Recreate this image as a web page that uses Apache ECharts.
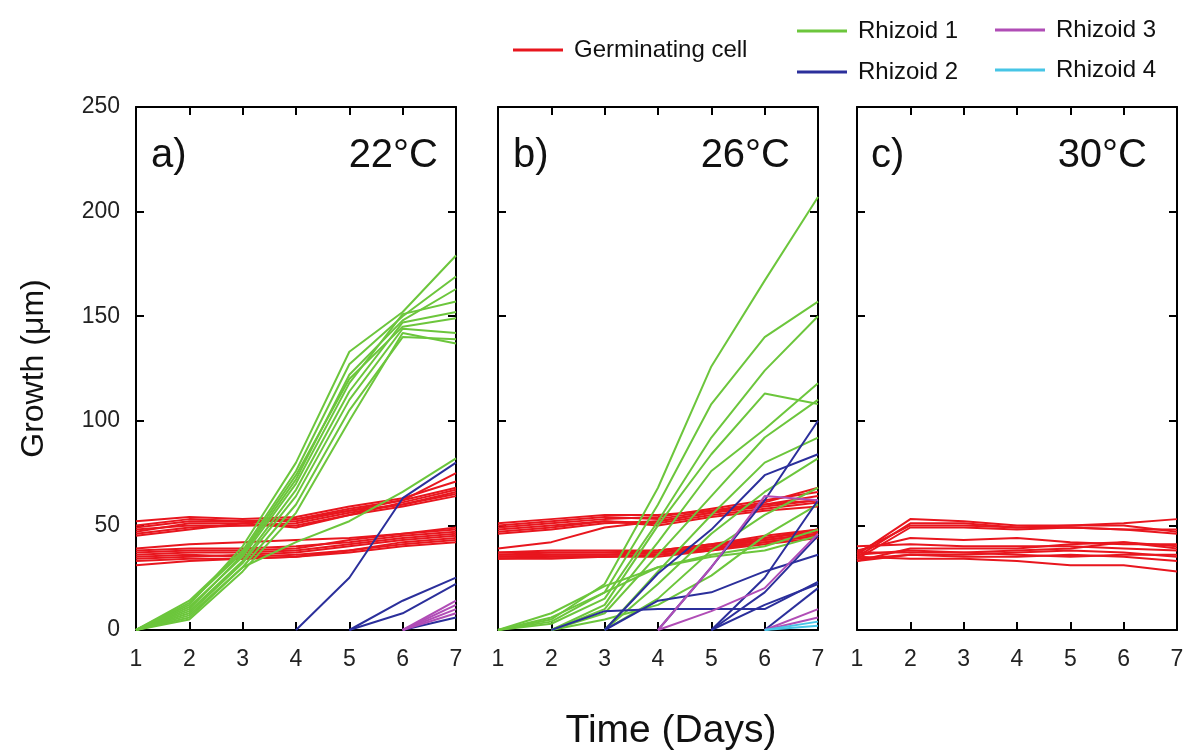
<!DOCTYPE html>
<html>
<head>
<meta charset="utf-8">
<script src="https://cdn.jsdelivr.net/npm/echarts@6/dist/echarts.min.js"></script>
<style>
  html, body { margin: 0; padding: 0; background: #fff; }
  #chart { width: 1189px; height: 756px; }
</style>
</head>
<body>
<div id="chart"></div>
<script>
// days on the x axis, growth (µm) on y
const days = [1, 2, 3, 4, 5, 6, 7];
const panelLabels = ['a)', 'b)', 'c)'];
const panelTemps = ['22°C', '26°C', '30°C'];

// a) 22°C
const germA = [
  [48, 50, 50, 51, 56, 60, 66],
  [50, 53, 52, 53, 58, 62, 68],
  [46, 49, 50, 50, 55, 59, 64],
  [52, 54, 53, 54, 59, 63, 71],
  [47, 51, 51, 49, 55, 61, 67],
  [49, 52, 52, 52, 57, 60, 65],
  [45, 48, 51, 53, 57, 62, 75],
  [38, 39, 39, 40, 42, 45, 47],
  [36, 37, 37, 38, 41, 44, 46],
  [34, 35, 36, 37, 40, 43, 45],
  [35, 36, 35, 36, 38, 42, 44],
  [33, 34, 34, 35, 37, 40, 42],
  [37, 38, 38, 39, 43, 46, 49],
  [39, 41, 42, 43, 44, 46, 48],
  [31, 33, 34, 35, 38, 41, 43]
];
const rhiz1A = [
  [0, 12, 40, 80, 133, 152, 179],
  [0, 14, 38, 76, 127, 150, 169],
  [0, 10, 36, 72, 122, 148, 163],
  [0, 11, 35, 70, 118, 151, 157],
  [0, 9, 33, 67, 114, 147, 152],
  [0, 13, 37, 74, 120, 145, 149],
  [0, 8, 32, 64, 110, 144, 142],
  [0, 6, 30, 60, 105, 140, 139],
  [0, 5, 28, 56, 100, 142, 137],
  [0, 7, 30, 42, 52, 66, 82]
];
const rhiz2A = [
  [null, null, null, 0, 25, 63, 80],
  [null, null, null, null, 0, 14, 25],
  [null, null, null, null, 0, 8, 22],
  [null, null, null, null, null, 0, 6]
];
const rhiz3A = [
  [null, null, null, null, null, 0, 14],
  [null, null, null, null, null, 0, 12],
  [null, null, null, null, null, 0, 10],
  [null, null, null, null, null, 0, 8]
];

// b) 26°C
const germB = [
  [48, 50, 52, 51, 55, 58, 61],
  [50, 52, 54, 53, 57, 60, 64],
  [46, 48, 51, 52, 56, 59, 62],
  [49, 51, 53, 54, 58, 62, 66],
  [47, 49, 52, 50, 54, 57, 59],
  [51, 53, 55, 55, 57, 61, 68],
  [39, 42, 49, 52, 56, 60, 62],
  [36, 36, 36, 37, 40, 43, 46],
  [35, 35, 35, 36, 39, 42, 45],
  [37, 37, 37, 38, 41, 44, 47],
  [34, 35, 35, 36, 38, 41, 44],
  [36, 37, 37, 37, 40, 44, 48],
  [35, 36, 36, 37, 39, 43, 46],
  [37, 38, 38, 38, 41, 45, 48],
  [34, 34, 35, 35, 38, 42, 45]
];
const rhiz1B = [
  [0, 5, 22, 68, 126, 167, 207],
  [0, 4, 18, 60, 108, 140, 157],
  [0, 3, 15, 52, 92, 124, 150],
  [null, 0, 12, 50, 84, 113, 108],
  [null, 0, 10, 42, 76, 96, 118],
  [null, 0, 8, 36, 64, 92, 110],
  [null, null, 0, 28, 55, 80, 92],
  [null, null, 0, 22, 46, 66, 82],
  [0, 6, 18, 30, 35, 38, 45],
  [0, 8, 21, 30, 36, 40, 48],
  [null, null, 0, 15, 38, 55, 68],
  [null, 0, 5, 12, 26, 45, 60]
];
const rhiz2B = [
  [null, 0, 9, 10, 10, 10, 23],
  [null, null, 0, 14, 18, 28, 36],
  [null, null, 0, 27, 48, 74, 84],
  [null, null, null, 0, 30, 62, 100],
  [null, null, null, null, 0, 25, 62],
  [null, null, null, null, 0, 12, 22],
  [null, null, null, null, 0, 18, 45],
  [null, null, null, null, null, 0, 20]
];
const rhiz3B = [
  [null, null, null, 0, 30, 64, 62],
  [null, null, null, 0, 9, 20, 46],
  [null, null, null, null, null, 0, 10],
  [null, null, null, null, null, 0, 6]
];
const rhiz4B = [
  [null, null, null, null, null, 0, 4],
  [null, null, null, null, null, 0, 2]
];

// c) 30°C
const germC = [
  [36, 53, 52, 50, 50, 51, 53],
  [35, 51, 51, 49, 49, 48, 46],
  [37, 50, 50, 49, 50, 50, 47],
  [34, 49, 49, 48, 49, 48, 48],
  [38, 44, 43, 44, 42, 41, 41],
  [33, 39, 39, 39, 41, 42, 40],
  [36, 38, 37, 38, 39, 42, 39],
  [37, 37, 37, 36, 35, 36, 36],
  [34, 36, 35, 35, 36, 35, 33],
  [35, 34, 34, 33, 31, 31, 28],
  [33, 36, 36, 37, 38, 37, 35],
  [40, 41, 40, 40, 40, 39, 38]
];

const RED = '#E8161E';
const GREEN = '#6CC63C';
const BLUE = '#2B2F9B';
const PURPLE = '#B04DB6';
const CYAN = '#47C5E6';

const chart = echarts.init(document.getElementById('chart'));

const grids = [
  { left: 136, width: 320, top: 107, bottom: 126 },
  { left: 498, width: 320, top: 107, bottom: 126 },
  { left: 857, width: 320, top: 107, bottom: 126 }
];

const axisLine = { show: true, onZero: false, lineStyle: { color: '#000', width: 2 } };
const axisTick = { show: true, inside: true, length: 8, lineStyle: { color: '#000', width: 2 } };
const fontFamily = '"Liberation Sans", Arial, sans-serif';

let xAxes = [], yAxes = [];
grids.forEach((g, i) => {
  xAxes.push({
    gridIndex: i, type: 'value', min: 1, max: 7, interval: 1, position: 'bottom',
    axisLine, axisTick, splitLine: { show: false },
    axisLabel: { fontSize: 23, color: '#222', margin: 18, fontFamily },
    name: i === 1 ? 'Time (Days)' : '', nameLocation: 'middle', nameGap: 82,
    nameTextStyle: { fontSize: 39, color: '#111', fontFamily, padding: [0, 0, 0, 26] }
  });
  xAxes.push({
    gridIndex: i, type: 'value', min: 1, max: 7, interval: 1, position: 'top',
    axisLine, axisTick, splitLine: { show: false }, axisLabel: { show: false }
  });
  yAxes.push({
    gridIndex: i, type: 'value', min: 0, max: 250, interval: 50, position: 'left',
    axisLine, axisTick, splitLine: { show: false },
    axisLabel: { show: i === 0, fontSize: 23, color: '#222', margin: 16, fontFamily },
    name: i === 0 ? 'Growth (μm)' : '', nameLocation: 'middle', nameGap: 86,
    nameTextStyle: { fontSize: 32, color: '#111', fontFamily }
  });
  yAxes.push({
    gridIndex: i, type: 'value', min: 0, max: 250, interval: 50, position: 'right',
    axisLine, axisTick, splitLine: { show: false }, axisLabel: { show: false }
  });
});

function lines(rows, name, color, gi) {
  return rows.map(r => ({
    type: 'line', name,
    xAxisIndex: gi * 2, yAxisIndex: gi * 2,
    data: r.map((v, k) => [days[k], v]).filter(p => p[1] !== null),
    symbol: 'none', silent: true,
    lineStyle: { color, width: 2 },
    itemStyle: { color }
  }));
}

const series = [].concat(
  lines(germA, 'Germinating cell', RED, 0),
  lines(rhiz1A, 'Rhizoid 1', GREEN, 0),
  lines(rhiz2A, 'Rhizoid 2', BLUE, 0),
  lines(rhiz3A, 'Rhizoid 3', PURPLE, 0),
  lines(germB, 'Germinating cell', RED, 1),
  lines(rhiz1B, 'Rhizoid 1', GREEN, 1),
  lines(rhiz2B, 'Rhizoid 2', BLUE, 1),
  lines(rhiz3B, 'Rhizoid 3', PURPLE, 1),
  lines(rhiz4B, 'Rhizoid 4', CYAN, 1),
  lines(germC, 'Germinating cell', RED, 2)
);

const legendBase = {
  icon: 'rect', itemWidth: 50, itemHeight: 3, itemGap: 10,
  textStyle: { fontSize: 24, color: '#111', fontFamily, padding: [0, 0, 0, 6] },
  selectedMode: false
};

const titles = [];
const labelLefts = [146, 508, 866];
const tempRights = [746, 394, 37];
panelLabels.forEach((t, i) => {
  titles.push({ text: t, left: labelLefts[i], top: 131, textStyle: { fontSize: 40, fontWeight: 'normal', color: '#111', fontFamily } });
  titles.push({ text: panelTemps[i], right: tempRights[i], top: 131, textStyle: { fontSize: 40, fontWeight: 'normal', color: '#111', fontFamily } });
});

chart.setOption({
  animation: false,
  backgroundColor: '#fff',
  title: titles,
  legend: [
    Object.assign({ data: ['Germinating cell'], left: 508, top: 33 }, legendBase),
    Object.assign({ data: ['Rhizoid 1'], left: 792, top: 14 }, legendBase),
    Object.assign({ data: ['Rhizoid 2'], left: 792, top: 55 }, legendBase),
    Object.assign({ data: ['Rhizoid 3'], left: 990, top: 13 }, legendBase),
    Object.assign({ data: ['Rhizoid 4'], left: 990, top: 53 }, legendBase)
  ],
  grid: grids,
  xAxis: xAxes,
  yAxis: yAxes,
  series
});
</script>
</body>
</html>
